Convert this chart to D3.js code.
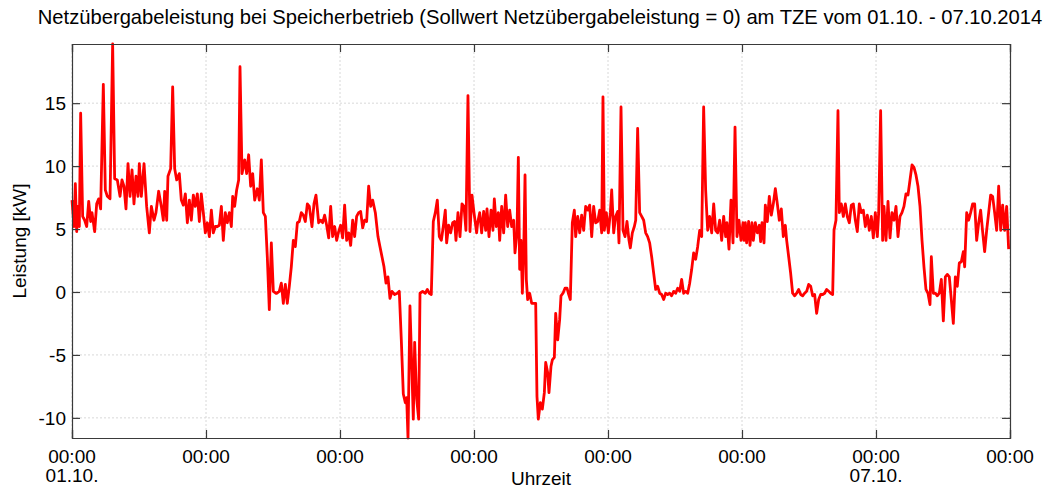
<!DOCTYPE html>
<html>
<head>
<meta charset="utf-8">
<script src="https://cdn.jsdelivr.net/npm/d3@7"></script>
<style>
  body { margin: 0; background: #fff; }
  text { font-family: "Liberation Sans", Arial, sans-serif; fill: #000; }
</style>
</head>
<body>
<div id="chart"></div>
<script>
const title = "Netzübergabeleistung bei Speicherbetrieb (Sollwert Netzübergabeleistung = 0) am TZE vom 01.10. - 07.10.2014";
const xLabel = "Uhrzeit";
const yLabel = "Leistung [kW]";

const startDate = new Date(2014, 9, 1, 0, 0);
const dayCount = 7;
const dayLabels = ["01.10.", "", "", "", "", "", "07.10.", ""];
const yTicks = [-10, -5, 0, 5, 10, 15];

// [Stunden seit 01.10. 00:00, Leistung in kW]
const tag1 = [
  [0.0, 7.3], [0.36, 5.2], [0.6, 8.6], [0.84, 4.8], [1.07, 6.8], [1.31, 5.2], [1.55, 14.2], [1.91, 6.0],
  [2.27, 5.7], [2.63, 5.2], [2.99, 7.2], [3.34, 5.6], [3.58, 6.3], [4.06, 4.8], [4.42, 7.0], [4.78, 7.4],
  [5.13, 6.6], [5.61, 16.5], [5.97, 8.1], [6.33, 7.6], [6.81, 7.4], [7.28, 19.7], [7.64, 9.0], [8.12, 8.9],
  [8.6, 7.6], [8.95, 8.9], [9.31, 8.4], [9.67, 6.6], [10.03, 10.2], [10.39, 7.6], [10.75, 9.7], [11.1, 7.0],
  [11.46, 9.2], [11.82, 7.6], [12.06, 10.2], [12.42, 7.6], [12.9, 10.2], [13.37, 6.8], [13.85, 4.7], [14.21, 6.8],
  [14.69, 5.7], [15.04, 6.3], [15.52, 8.0], [16.0, 6.8], [16.36, 5.7], [16.6, 8.0], [16.96, 5.7], [17.19, 9.2],
  [17.67, 9.8], [18.03, 16.3], [18.39, 9.8], [18.75, 8.9], [19.22, 9.4], [19.58, 7.3], [19.94, 6.9], [20.3, 7.8],
  [20.66, 5.5], [21.02, 7.3], [21.37, 5.7], [21.73, 7.7], [22.09, 6.8], [22.45, 7.8], [22.81, 5.6], [23.16, 7.8],
  [23.52, 6.3]
];
const tag2 = [
  [23.88, 4.7], [24.24, 5.5], [24.6, 4.4], [24.96, 6.5], [25.31, 4.7], [25.67, 5.2], [26.03, 5.2], [26.39, 5.3],
  [26.75, 6.8], [27.1, 4.1], [27.46, 6.3], [27.82, 5.5], [28.18, 6.3], [28.54, 5.2], [28.78, 7.6], [29.13, 6.8],
  [29.49, 8.1], [29.85, 8.9], [30.09, 17.9], [30.45, 9.4], [30.93, 10.5], [31.28, 9.4], [31.64, 10.9], [32.0, 8.4],
  [32.36, 9.4], [32.72, 7.3], [33.19, 8.2], [33.55, 7.3], [33.91, 10.5], [34.27, 6.3], [34.63, 6.0], [34.98, 2.8],
  [35.34, -1.4], [35.7, 3.9], [36.06, 0.05], [36.54, -0.1], [36.65, -0.1], [37.13, 0.05], [37.49, 0.7], [37.85, -0.9],
  [38.21, 0.6], [38.56, -0.9], [38.92, 0.45], [39.28, 2.0], [39.64, 4.1], [40.0, 3.6], [40.36, 5.5], [40.71, 5.6],
  [41.07, 6.3], [41.43, 6.1], [41.79, 5.6], [42.15, 7.0], [42.5, 6.8], [42.98, 5.2], [43.34, 7.0], [43.7, 7.7],
  [44.18, 5.5], [44.53, 5.7], [44.89, 5.5], [45.25, 6.1], [45.61, 5.3], [45.97, 4.3], [46.33, 6.8], [46.68, 4.4],
  [47.04, 5.2], [47.4, 4.1], [47.76, 4.8]
];
const tag3 = [
  [48.12, 5.3], [48.47, 4.3], [48.83, 6.9], [49.19, 4.1], [49.55, 4.7], [49.91, 3.7], [50.27, 5.7], [50.62, 4.4],
  [50.98, 6.0], [51.34, 6.3], [51.7, 6.4], [52.06, 5.1], [52.41, 5.7], [52.77, 5.6], [53.13, 8.4], [53.49, 6.8],
  [53.85, 7.3], [54.33, 6.3], [54.8, 4.4], [55.16, 3.6], [55.52, 2.8], [55.88, 2.0], [56.24, 0.7], [56.59, 1.2],
  [56.95, -0.5], [57.31, 0.05], [57.79, -0.2], [58.27, -0.1], [58.62, 0.05], [58.98, -3.8], [59.34, -8.1], [59.7, -8.8],
  [59.94, -8.4], [60.18, -11.6], [60.53, -1.1], [60.89, -6.4], [61.13, -10.1], [61.37, -4.0], [61.73, -8.5], [62.09, -10.1],
  [62.33, -0.1], [62.8, 0.05], [63.28, -0.1], [63.64, 0.2], [64.0, -0.1], [64.35, -0.2], [64.71, 5.6], [65.07, 6.3],
  [65.43, 7.3], [65.79, 4.4], [66.15, 4.1], [66.5, 5.2], [66.86, 6.5], [67.1, 3.9], [67.46, 5.3], [67.82, 4.7],
  [68.18, 5.5], [68.53, 5.6], [68.77, 4.1], [69.13, 6.3], [69.49, 4.4], [69.85, 7.0], [70.21, 6.8], [70.56, 4.9],
  [70.92, 15.6], [71.28, 4.8], [71.64, 7.7]
];
const tag4 = [
  [72.0, 6.3], [72.47, 4.7], [72.66, 5.5], [73.02, 6.3], [73.37, 4.7], [73.73, 6.4], [74.09, 4.9], [74.33, 6.6],
  [74.69, 4.4], [75.05, 6.5], [75.4, 4.9], [75.64, 7.4], [76.0, 5.2], [76.36, 6.3], [76.6, 4.1], [76.96, 6.8],
  [77.31, 4.7], [77.67, 7.7], [78.03, 5.2], [78.39, 6.5], [78.75, 5.2], [79.11, 5.7], [79.34, 3.1], [79.7, 4.7],
  [79.94, 10.7], [80.18, 1.8], [80.42, 4.1], [80.66, -0.1], [80.9, 3.1], [81.14, 9.3], [81.37, 1.0], [81.61, -0.6],
  [81.97, -0.1], [82.33, -0.9], [82.69, -0.9], [83.05, -0.9], [83.28, -8.3], [83.52, -10.1], [83.88, -8.8], [84.24, -9.3],
  [84.6, -8.0], [84.84, -5.6], [85.19, -6.4], [85.43, -8.0], [85.79, -5.9], [86.03, -5.4], [86.39, -5.2], [86.63, -1.7],
  [86.99, -3.8], [87.34, -2.2], [87.58, -0.3], [87.94, -0.1], [88.3, 0.3], [88.66, 0.3], [88.9, -0.1], [89.25, -0.6],
  [89.61, 5.5], [89.97, 6.5], [90.21, 4.4], [90.57, 6.0], [90.93, 4.7], [91.28, 6.1], [91.64, 4.9], [92.0, 6.8],
  [92.36, 6.5], [92.72, 6.9], [93.08, 4.4], [93.43, 6.8], [93.79, 5.5], [94.15, 5.6], [94.51, 6.5], [94.87, 4.7],
  [95.1, 15.5], [95.34, 4.9], [95.7, 6.3]
];
const tag5 = [
  [96.06, 4.7], [96.42, 6.3], [96.66, 8.1], [97.02, 4.7], [97.37, 6.0], [97.73, 6.4], [97.97, 3.9], [98.33, 14.7],
  [98.69, 4.9], [99.05, 4.4], [99.4, 5.6], [99.76, 4.1], [100.0, 3.5], [100.36, 4.7], [100.72, 5.2], [100.96, 5.7],
  [101.31, 13.0], [101.67, 6.3], [102.03, 6.0], [102.39, 5.7], [102.75, 4.7], [103.1, 4.4], [103.46, 3.9], [103.82, 2.8],
  [104.18, 1.5], [104.54, 0.2], [104.9, 0.45], [105.25, -0.1], [105.61, -0.2], [105.97, -0.6], [106.33, -0.1], [106.69, -0.2],
  [107.04, -0.1], [107.4, -0.3], [107.76, 0.05], [108.12, -0.1], [108.48, 0.3], [108.84, 0.05], [109.19, 1.0], [109.55, -0.1],
  [109.91, 0.05], [110.27, -0.1], [110.63, 0.7], [110.99, 1.8], [111.34, 3.1], [111.7, 2.6], [112.06, 3.6], [112.42, 4.9],
  [112.78, 4.4], [113.13, 14.7], [113.49, 8.1], [113.85, 4.9], [114.21, 6.0], [114.57, 4.7], [114.93, 7.0], [115.28, 4.9],
  [115.64, 4.7], [116.0, 5.7], [116.36, 4.1], [116.72, 6.0], [117.07, 4.4], [117.31, 5.5], [117.67, 3.4], [118.03, 7.3],
  [118.39, 3.9], [118.75, 13.1], [119.1, 4.4], [119.46, 5.7], [119.82, 4.1]
];
const tag6 = [
  [120.18, 5.5], [120.36, 4.1], [120.6, 5.5], [120.83, 3.9], [121.19, 5.6], [121.43, 3.7], [121.79, 5.5], [122.03, 4.1],
  [122.39, 5.5], [122.74, 4.7], [123.1, 5.3], [123.34, 4.0], [123.58, 5.5], [123.94, 3.9], [124.18, 6.9], [124.54, 5.6],
  [124.89, 7.6], [125.25, 6.1], [125.61, 7.0], [125.97, 8.2], [126.33, 7.0], [126.68, 5.7], [127.04, 6.6], [127.4, 4.4],
  [127.76, 5.3], [128.0, 4.1], [128.36, 2.8], [128.71, 1.5], [129.07, -0.1], [129.43, -0.3], [129.79, -0.1], [130.15, 0.2],
  [130.51, -0.2], [130.86, -0.3], [131.22, -0.1], [131.58, 0.05], [131.94, 0.6], [132.3, 0.45], [132.65, -0.3], [133.01, -0.2],
  [133.37, -1.7], [133.73, -0.6], [134.09, -0.2], [134.45, -0.2], [134.8, -0.1], [135.16, 0.2], [135.52, 0.05], [135.88, -0.1],
  [136.24, -0.2], [136.48, 4.9], [136.83, 5.7], [137.19, 14.4], [137.43, 6.3], [137.79, 7.0], [138.15, 6.0], [138.51, 7.0],
  [138.86, 6.0], [139.22, 5.5], [139.58, 6.9], [139.94, 7.0], [140.3, 5.7], [140.65, 4.8], [141.01, 7.0], [141.37, 6.3],
  [141.73, 6.5], [142.09, 5.2], [142.45, 6.1], [142.8, 4.9], [143.16, 6.0], [143.52, 4.3], [143.88, 6.3]
];
const tag7 = [
  [144.24, 4.4], [144.48, 6.3], [144.83, 14.4], [145.19, 4.1], [145.43, 6.8], [145.79, 4.1], [146.15, 7.2], [146.51, 4.3],
  [146.86, 6.3], [147.22, 5.7], [147.58, 6.8], [147.94, 4.4], [148.3, 6.0], [148.65, 6.3], [149.01, 6.8], [149.37, 7.8],
  [149.73, 7.7], [150.09, 8.9], [150.45, 10.1], [150.8, 9.9], [151.16, 9.3], [151.52, 8.4], [151.88, 6.8], [152.24, 4.1],
  [152.59, 2.0], [152.95, 0.2], [153.31, -0.1], [153.67, -1.0], [153.91, 2.8], [154.27, -0.1], [154.62, -0.1], [154.98, -0.3],
  [155.34, -0.1], [155.7, 1.0], [156.06, -2.3], [156.42, 1.2], [156.77, 1.4], [157.13, 1.2], [157.49, -0.6], [157.85, -2.5],
  [158.21, 1.2], [158.56, 0.45], [158.92, 2.3], [159.28, 2.4], [159.64, 3.2], [159.88, 2.0], [160.24, 6.3], [160.59, 5.7],
  [160.95, 6.3], [161.31, 7.0], [161.67, 7.0], [162.03, 4.1], [162.39, 5.5], [162.74, 6.5], [163.1, 4.8], [163.46, 3.2],
  [163.82, 4.9], [164.18, 6.3], [164.53, 7.7], [164.89, 7.6], [165.25, 6.3], [165.61, 4.9], [165.97, 8.4], [166.33, 4.9],
  [166.68, 6.9], [167.04, 4.9], [167.4, 6.8], [167.76, 3.4]
];

const messwerte = [...tag1, ...tag2, ...tag3, ...tag4, ...tag5, ...tag6, ...tag7].map(([h, v]) => ({
  time: new Date(startDate.getTime() + h * 3600 * 1000),
  value: v,
}));

const width = 1047;
const height = 488;
const margin = { top: 44, right: 37, bottom: 50, left: 72 };
const plotW = width - margin.left - margin.right;
const plotH = height - margin.top - margin.bottom;

const svg = d3
  .select("#chart")
  .append("svg")
  .attr("width", width)
  .attr("height", height);

const endDate = d3.timeDay.offset(startDate, dayCount);
const x = d3.scaleTime().domain([startDate, endDate]).range([0, plotW]);
const y = d3
  .scaleLinear()
  .domain(d3.extent(messwerte, (d) => d.value))
  .range([plotH, 0]);

const xTickDates = d3.timeDay.range(startDate, d3.timeDay.offset(endDate, 1));

const g = svg
  .append("g")
  .attr("transform", `translate(${margin.left},${margin.top})`);

// grid
g.append("g")
  .selectAll("line")
  .data(xTickDates)
  .enter()
  .append("line")
  .attr("x1", (d) => x(d))
  .attr("x2", (d) => x(d))
  .attr("y1", 0)
  .attr("y2", plotH)
  .attr("stroke", "#d8d8d8")
  .attr("stroke-width", 1)
  .attr("stroke-dasharray", "2,2");

g.append("g")
  .selectAll("line")
  .data(yTicks)
  .enter()
  .append("line")
  .attr("x1", 0)
  .attr("x2", plotW)
  .attr("y1", (d) => y(d))
  .attr("y2", (d) => y(d))
  .attr("stroke", "#d8d8d8")
  .attr("stroke-width", 1)
  .attr("stroke-dasharray", "2,2");

// data line
const line = d3
  .line()
  .x((d) => x(d.time))
  .y((d) => y(d.value));

g.append("path")
  .datum(messwerte)
  .attr("fill", "none")
  .attr("stroke", "#ff0000")
  .attr("stroke-width", 2.8)
  .attr("stroke-linejoin", "round")
  .attr("d", line);

// axes, ticks inward on all sides
const tickLen = 8;
const axisColor = "#3a3a3a";

const xAxisB = d3.axisBottom(x).tickValues(xTickDates).tickSize(-tickLen).tickFormat("");
const xAxisT = d3.axisTop(x).tickValues(xTickDates).tickSize(-tickLen).tickFormat("");
const yAxisL = d3.axisLeft(y).tickValues(yTicks).tickSize(-tickLen).tickFormat("");
const yAxisR = d3.axisRight(y).tickValues(yTicks).tickSize(-tickLen).tickFormat("");

[
  [xAxisB, `translate(0,${plotH})`],
  [xAxisT, "translate(0,0)"],
  [yAxisL, "translate(0,0)"],
  [yAxisR, `translate(${plotW},0)`],
].forEach(([axis, tr]) => {
  const a = g.append("g").attr("transform", tr).call(axis);
  a.select(".domain").attr("stroke", axisColor).attr("stroke-width", 1.2);
  a.selectAll(".tick line").attr("stroke", axisColor).attr("stroke-width", 1.2);
});

// tick labels
const fontSize = 19;

g.append("g")
  .selectAll("text")
  .data(yTicks)
  .enter()
  .append("text")
  .attr("x", -6)
  .attr("y", (d) => y(d))
  .attr("dy", "0.35em")
  .attr("text-anchor", "end")
  .style("font-size", fontSize + "px")
  .text((d) => d);

const xLab = g
  .append("g")
  .selectAll("g")
  .data(xTickDates)
  .enter()
  .append("g")
  .attr("transform", (d) => `translate(${x(d)},${plotH})`);

xLab
  .append("text")
  .attr("y", 25)
  .attr("text-anchor", "middle")
  .style("font-size", fontSize + "px")
  .text((d) => d3.timeFormat("%H:%M")(d));

xLab
  .append("text")
  .attr("y", 44)
  .attr("text-anchor", "middle")
  .style("font-size", fontSize + "px")
  .text((d, i) => dayLabels[i]);

// axis titles
svg
  .append("text")
  .attr("x", margin.left + plotW / 2)
  .attr("y", 485)
  .attr("text-anchor", "middle")
  .style("font-size", fontSize + "px")
  .text(xLabel);

svg
  .append("text")
  .attr("transform", `translate(26,${margin.top + plotH / 2}) rotate(-90)`)
  .attr("text-anchor", "middle")
  .style("font-size", fontSize + "px")
  .text(yLabel);

svg
  .append("text")
  .attr("x", 540)
  .attr("y", 24)
  .attr("text-anchor", "middle")
  .style("font-size", "20.2px")
  .text(title);
</script>
</body>
</html>
